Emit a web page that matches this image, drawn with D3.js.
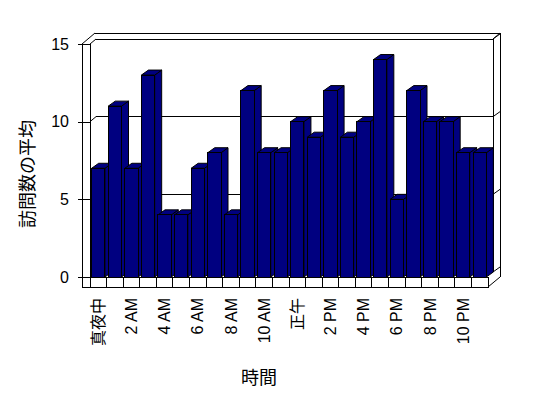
<!DOCTYPE html>
<html>
<head>
<meta charset="utf-8">
<script src="https://cdn.jsdelivr.net/npm/d3@7"></script>
<style>
  body { margin: 0; background: #fff; }
  svg { display: block; }
</style>
</head>
<body>
<script>
    // chart data
    const hours = ["真夜中", "1 AM", "2 AM", "3 AM", "4 AM", "5 AM", "6 AM", "7 AM", "8 AM", "9 AM", "10 AM", "11 AM",
                   "正午", "1 PM", "2 PM", "3 PM", "4 PM", "5 PM", "6 PM", "7 PM", "8 PM", "9 PM", "10 PM", "11 PM"]
    const visits = [7, 11, 7, 13, 4, 4, 7, 8, 4, 12, 8, 8, 10, 9, 12, 9, 10, 14, 5, 12, 10, 10, 8, 8]
    const yTicks = [0, 5, 10, 15]
    const xLabels = ["真夜中", "2 AM", "4 AM", "6 AM", "8 AM", "10 AM", "正午", "2 PM", "4 PM", "6 PM", "8 PM", "10 PM"]

    const width = 548, height = 398
    const font = "'Liberation Sans', 'Noto Sans CJK JP', sans-serif"

    // plot front plane and 3d offsets
    const pLeft = 90, pRight = 488, pTop = 44, pBottom = 277
    const wall = {dx: 6, dy: -5}      // front of walls -> back wall plane
    const depth = {dx: 13, dy: -11}   // outer depth of the box
    const barDepth = {dx: 7, dy: -5}
    const floorH = 10

    const svg = d3.select("body")
      .append("svg")
      .attr("width", width)
      .attr("height", height)

    svg.append("rect")
      .attr("width", width)
      .attr("height", height)
      .attr("fill", "white")

    const x = d3.scaleBand()
      .domain(hours)
      .range([pLeft, pRight])
      .paddingInner(0.2)
      .paddingOuter(0.1)

    // category slots without padding, for floor dividers
    const xo = d3.scaleBand()
      .domain(hours)
      .range([pLeft, pRight])

    const y = d3.scaleLinear()
      .domain([0, 15])
      .range([pBottom, pTop])

    const frame = svg.append("g")
      .attr("fill", "none")
      .attr("stroke", "black")
      .attr("stroke-width", 1)
      .attr("shape-rendering", "crispEdges")

    const line = (x1, y1, x2, y2, g = frame) =>
      g.append("line").attr("x1", x1).attr("y1", y1).attr("x2", x2).attr("y2", y2)

    // back wall edges
    const backL = pLeft + wall.dx, backR = pRight + 5, backT = y(15) + wall.dy
    const outL = pLeft - 8 + depth.dx, outT = pTop + depth.dy, outR = backR + 7
    line(outL, outT, outR, outT)
    line(outR, outT, outR, pBottom)
    line(backR, backT, outR, outT).attr("shape-rendering", "auto")
    line(backR, backT, backR, y(0) + wall.dy)

    // gridlines on back wall + diagonals on left and right walls
    yTicks.forEach(v => {
      const yb = y(v) + wall.dy
      line(backL, yb, backR, yb)
      line(pLeft, y(v), backL, yb).attr("shape-rendering", "auto")
      line(backR, yb, outR, yb - 5).attr("shape-rendering", "auto")
    })

    // left wall
    line(pLeft - 8, pTop, pLeft - 8, pBottom + floorH)
    line(pLeft - 8, pTop, outL, outT).attr("shape-rendering", "auto")

    // y axis
    svg.append("g")
      .attr("transform", `translate(${pLeft},0)`)
      .call(d3.axisLeft(y).tickValues(yTicks).tickSizeInner(12).tickSizeOuter(0).tickPadding(9))
      .call(g => g.selectAll("line,path").attr("stroke", "black").attr("shape-rendering", "crispEdges"))
      .call(g => g.selectAll("text")
        .style("font-family", font)
        .style("font-size", "16px")
        .attr("fill", "black"))

    // bars
    const bars = svg.append("g")
      .attr("stroke", "black")
      .attr("stroke-width", 1)
      .attr("fill", "#000080")

    hours.forEach((h, i) => {
      const x0 = x(h), x1 = x(h) + x.bandwidth(), yt = y(visits[i]), yb = y(0)
      const g = bars.append("g")
      // side face
      g.append("path")
        .attr("d", `M${x1},${yt}L${x1 + barDepth.dx},${yt + barDepth.dy}L${x1 + barDepth.dx},${yb + barDepth.dy}L${x1},${yb}Z`)
      // top face
      g.append("path")
        .attr("d", `M${x0},${yt}L${x0 + barDepth.dx},${yt + barDepth.dy}L${x1 + barDepth.dx},${yt + barDepth.dy}L${x1},${yt}Z`)
      // front face
      g.append("rect")
        .attr("x", x0)
        .attr("y", yt)
        .attr("width", x.bandwidth())
        .attr("height", yb - yt)
        .attr("shape-rendering", "crispEdges")
    })

    // floor front face with category dividers
    const floor = svg.append("g")
      .attr("stroke", "black")
      .attr("fill", "none")
      .attr("shape-rendering", "crispEdges")
    floor.append("rect")
      .attr("x", pLeft - 8)
      .attr("y", pBottom)
      .attr("width", pRight - pLeft + 8)
      .attr("height", floorH)
      .attr("fill", "white")
    floor.append("line")
      .attr("x1", pLeft).attr("y1", pTop)
      .attr("x2", pLeft).attr("y2", pBottom + floorH)
    floor.selectAll(".div")
      .data(hours.slice(1))
      .enter()
      .append("line")
      .attr("x1", d => xo(d)).attr("x2", d => xo(d))
      .attr("y1", pBottom).attr("y2", pBottom + floorH)
    floor.append("line")
      .attr("x1", pRight).attr("y1", pBottom + floorH)
      .attr("x2", outR).attr("y2", pBottom)
      .attr("shape-rendering", "auto")

    // x axis labels
    svg.append("g")
      .attr("transform", `translate(0,${pBottom + floorH})`)
      .call(d3.axisBottom(xo).tickValues(xLabels).tickSize(0))
      .call(g => g.select(".domain").remove())
      .call(g => g.selectAll("text")
        .attr("transform", "rotate(-90)")
        .attr("x", -11)
        .attr("y", 0)
        .attr("dy", "0.35em")
        .attr("text-anchor", "end")
        .attr("fill", "black")
        .style("font-family", font)
        .style("font-size", "16px"))

    // axis titles
    svg.append("text")
      .text("訪問数の平均")
      .attr("transform", "translate(28,174) rotate(-90)")
      .attr("text-anchor", "middle")
      .attr("dominant-baseline", "central")
      .style("font-family", font)
      .style("font-size", "18px")

    svg.append("text")
      .text("時間")
      .attr("x", 259)
      .attr("y", 378)
      .attr("text-anchor", "middle")
      .attr("dominant-baseline", "central")
      .style("font-family", font)
      .style("font-size", "18px")
</script>
</body>
</html>
